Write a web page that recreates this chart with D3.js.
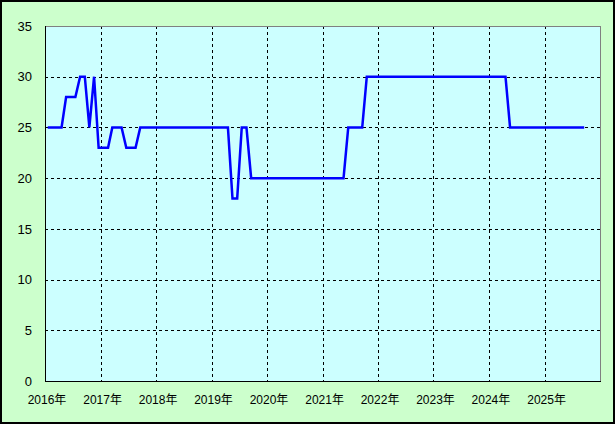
<!DOCTYPE html>
<html>
<head>
<meta charset="utf-8">
<script src="https://cdn.jsdelivr.net/npm/d3@7"></script>
<style>
  html, body { margin: 0; padding: 0; background: #CCFFCC; }
  svg { display: block; }
</style>
</head>
<body>
<svg id="chart" width="615" height="424"></svg>
<script>
// ---- data ----
const startYear = 2016;
const monthlyValues = [
  // 2016
  25, 25, 25, 25, 28, 28, 28, 30, 30, 25, 30, 23,
  // 2017
  23, 23, 25, 25, 25, 23, 23, 23, 25, 25, 25, 25,
  // 2018
  25, 25, 25, 25, 25, 25, 25, 25, 25, 25, 25, 25,
  // 2019
  25, 25, 25, 25, 18, 18, 25, 25, 20, 20, 20, 20,
  // 2020
  20, 20, 20, 20, 20, 20, 20, 20, 20, 20, 20, 20,
  // 2021
  20, 20, 20, 20, 20, 25, 25, 25, 25, 30, 30, 30,
  // 2022
  30, 30, 30, 30, 30, 30, 30, 30, 30, 30, 30, 30,
  // 2023
  30, 30, 30, 30, 30, 30, 30, 30, 30, 30, 30, 30,
  // 2024
  30, 30, 30, 30, 25, 25, 25, 25, 25, 25, 25, 25,
  // 2025
  25, 25, 25, 25, 25, 25, 25, 25, 25
];
const yearTicks = [2016, 2017, 2018, 2019, 2020, 2021, 2022, 2023, 2024, 2025];
const yTicks = [0, 5, 10, 15, 20, 25, 30, 35];

// build dated points (monthly, mid-month)
const points = monthlyValues.map((v, i) => ({
  date: new Date(startYear + Math.floor(i / 12), i % 12, 19),
  value: v
}));

// ---- layout ----
const W = 615, H = 424;
const plot = { left: 45, right: 600, top: 26, bottom: 381 };

const svg = d3.select("#chart");

// outer background & border
svg.append("rect").attr("x", 0).attr("y", 0).attr("width", W).attr("height", H).attr("fill", "#CCFFCC");
svg.append("rect").attr("x", 1).attr("y", 1).attr("width", W - 2).attr("height", H - 2)
  .attr("fill", "none").attr("stroke", "#000").attr("stroke-width", 2);

const x = d3.scaleTime()
  .domain([new Date(2016, 0, 1), new Date(2026, 0, 1)])
  .range([plot.left, plot.right]);
const y = d3.scaleLinear().domain([0, 35]).range([plot.bottom, plot.top]);

// plot background
svg.append("rect")
  .attr("x", plot.left).attr("y", plot.top)
  .attr("width", plot.right - plot.left).attr("height", plot.bottom - plot.top)
  .attr("fill", "#CCFFFF");

// grid lines
const grid = svg.append("g").attr("stroke", "#000").attr("stroke-width", 1)
  .attr("stroke-dasharray", "3,3").attr("shape-rendering", "crispEdges");
grid.selectAll("line.h").data(yTicks.filter(t => t > 0 && t < 35)).join("line")
  .attr("x1", plot.left).attr("x2", plot.right)
  .attr("y1", d => Math.round(y(d)) + 0.5).attr("y2", d => Math.round(y(d)) + 0.5);
grid.selectAll("line.v").data(yearTicks.filter(t => t > 2016)).join("line")
  .attr("x1", d => Math.round(x(new Date(d, 0, 1))) + 0.5)
  .attr("x2", d => Math.round(x(new Date(d, 0, 1))) + 0.5)
  .attr("y1", plot.top).attr("y2", plot.bottom);

// frame: top/right gray, left/bottom black
svg.append("line").attr("x1", plot.left).attr("x2", plot.right + 0.5)
  .attr("y1", plot.top + 0.5).attr("y2", plot.top + 0.5)
  .attr("stroke", "#808080").attr("shape-rendering", "crispEdges");
svg.append("line").attr("x1", plot.right + 0.5).attr("x2", plot.right + 0.5)
  .attr("y1", plot.top).attr("y2", plot.bottom)
  .attr("stroke", "#808080").attr("shape-rendering", "crispEdges");

// axes (labels)
const yAxis = d3.axisLeft(y).tickValues(yTicks).tickSize(0).tickPadding(13);
const gy = svg.append("g").attr("transform", `translate(${plot.left},0)`).call(yAxis);
gy.select(".domain").remove();
gy.selectAll("text").attr("font-family", "'Liberation Sans', Arial, sans-serif")
  .attr("font-size", 13).attr("fill", "#000");

const xAxis = d3.axisBottom(x)
  .tickValues(yearTicks.map(yr => new Date(yr, 0, 1)))
  .tickFormat(d => d.getFullYear() + "年")
  .tickSize(0).tickPadding(14);
const gx = svg.append("g").attr("transform", `translate(1.5,${plot.bottom})`).call(xAxis);
gx.select(".domain").remove();
gx.selectAll("text").attr("font-family", "'Liberation Sans', 'Noto Sans CJK JP', sans-serif")
  .attr("font-size", 12).attr("fill", "#000");

// axis lines
svg.append("line").attr("x1", plot.left + 0.5).attr("x2", plot.left + 0.5)
  .attr("y1", plot.top).attr("y2", plot.bottom + 1)
  .attr("stroke", "#000").attr("shape-rendering", "crispEdges");
svg.append("line").attr("x1", plot.left).attr("x2", plot.right + 1)
  .attr("y1", plot.bottom + 0.5).attr("y2", plot.bottom + 0.5)
  .attr("stroke", "#000").attr("shape-rendering", "crispEdges");

// series line
const line = d3.line().x(d => x(d.date)).y(d => y(d.value));
svg.append("path").datum(points)
  .attr("d", line)
  .attr("fill", "none")
  .attr("stroke", "#0000FF")
  .attr("stroke-width", 2.5)
  .attr("stroke-linejoin", "miter");
</script>
</body>
</html>
